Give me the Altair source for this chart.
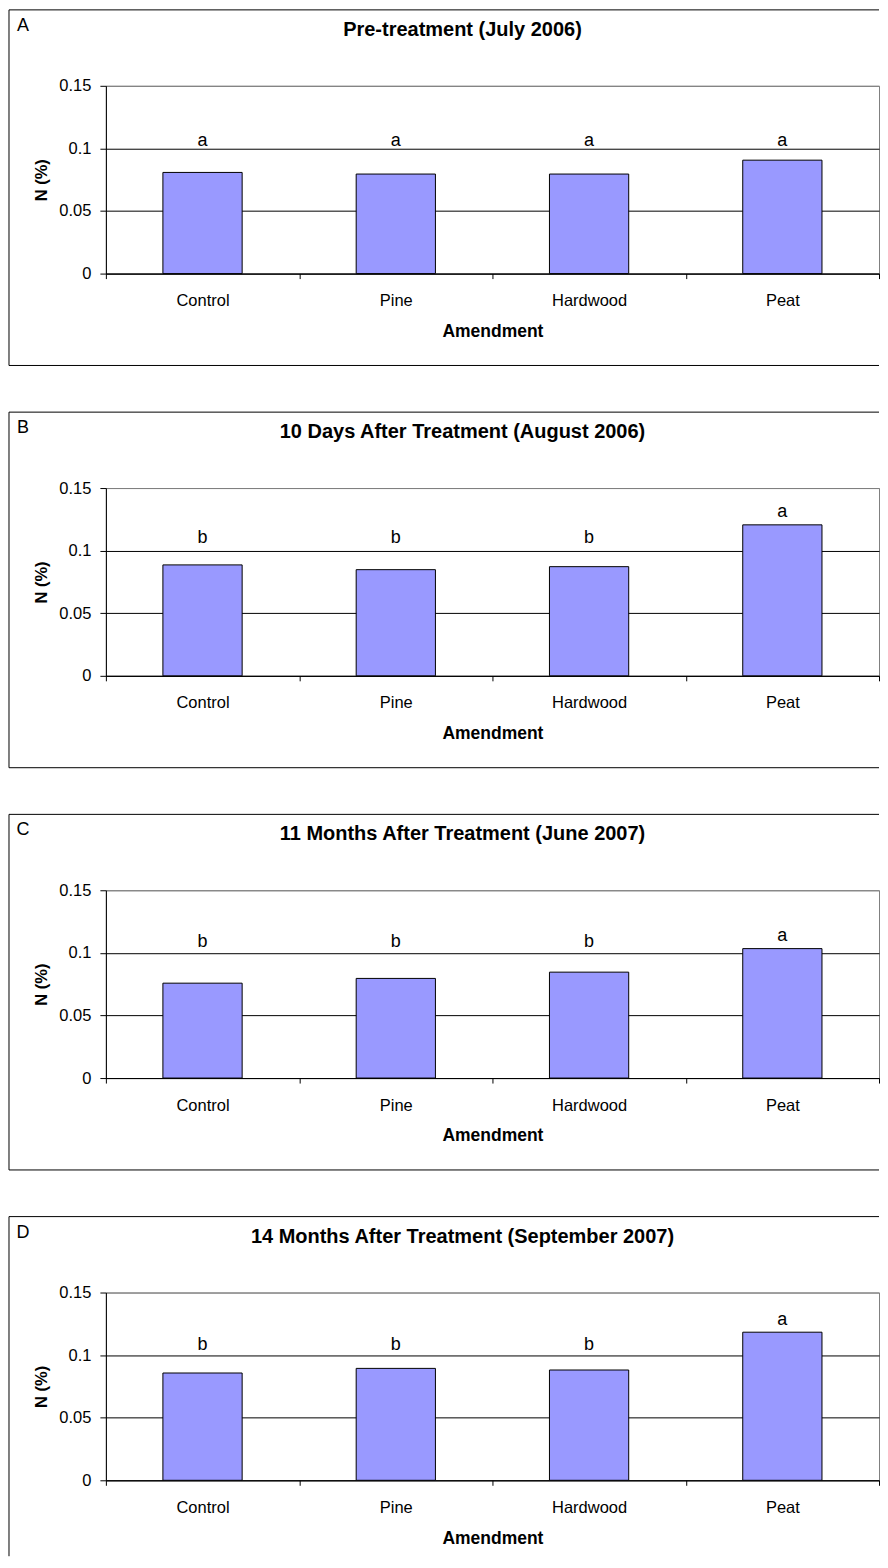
import altair as alt
import pandas as pd

# ---------------- data ----------------
amendments = ["Control", "Pine", "Hardwood", "Peat"]
panel_letters = ["A", "B", "C", "D"]
panel_titles = [
    "Pre-treatment (July 2006)",
    "10 Days After Treatment (August 2006)",
    "11 Months After Treatment (June 2007)",
    "14 Months After Treatment (September 2007)",
]
n_pre = [0.0808, 0.0795, 0.0795, 0.0906]
n_10d = [0.0886, 0.0848, 0.0872, 0.1206]
n_11m = [0.0758, 0.0796, 0.0846, 0.1034]
n_14m = [0.0857, 0.0894, 0.0881, 0.1183]
n_values = [n_pre, n_10d, n_11m, n_14m]

sig_pre = ["a", "a", "a", "a"]
sig_10d = ["b", "b", "b", "a"]
sig_11m = ["b", "b", "b", "a"]
sig_14m = ["b", "b", "b", "a"]
sig_letters = [sig_pre, sig_10d, sig_11m, sig_14m]

# height (N %) at which each significance letter sits
sigy_pre = [0.1016, 0.1016, 0.1016, 0.1016]
sigy_10d = [0.1062, 0.1062, 0.1062, 0.1266]
sigy_11m = [0.1050, 0.1050, 0.1050, 0.1095]
sigy_14m = [0.1044, 0.1044, 0.1044, 0.1244]
sig_heights = [sigy_pre, sigy_10d, sigy_11m, sigy_14m]

y_ticks = [0, 0.05, 0.1, 0.15]

# ---------------- layout / style ----------------
W, H = 774, 188
FONT = "Liberation Sans"
BOX_L, BOX_T = -97, -76
BOX_R = W


def panel(i):
    df = pd.DataFrame({
        "Amendment": amendments,
        "N": n_values[i],
        "sig": sig_letters[i],
        "sig_y": sig_heights[i],
    })
    base = alt.Chart(df)

    x_enc = alt.X(
        "Amendment:N",
        sort=amendments,
        scale=alt.Scale(paddingInner=0, paddingOuter=0),
        axis=alt.Axis(
            title="Amendment",
            labelAngle=0,
            tickBand="extent",
            grid=False,
            domainColor="#000000",
            tickColor="#000000",
            tickSize=5,
            labelFontSize=16.5,
            labelColor="#000000",
            labelBaseline="top",
            labelPadding=14,
            titleFontSize=17.5,
            titleFontWeight="bold",
            titleColor="#000000",
            titleX=W / 2,
            titleY=58,
            titleBaseline="middle",
        ),
    )
    y_axis = alt.Axis(
        title="N (%)",
        values=y_ticks,
        format="~g",
        domainColor="#000000",
        tickColor="#000000",
        tickSize=6,
        labelFontSize=16.5,
        labelColor="#000000",
        labelPadding=9,
        grid=True,
        gridColor={"condition": {"test": "datum.value >= 0.149", "value": "#808080"},
                   "value": "#000000"},
        gridWidth=1,
        titleFontSize=16.5,
        titleFontWeight="bold",
        titleColor="#000000",
        titleAngle=270,
        titleX=-64,
        titleY=H / 2,
        titleBaseline="middle",
    )
    y_enc = alt.Y("N:Q", scale=alt.Scale(domain=[0, 0.15], nice=False, zero=True), axis=y_axis)

    bars = base.mark_bar(
        width=alt.RelativeBandSize(0.41),
        fill="#9999FF",
        stroke="#000000",
        strokeWidth=1,
    ).encode(x=x_enc, y=y_enc)

    letters = base.mark_text(
        fontSize=18, baseline="alphabetic", align="center", color="#000000"
    ).encode(
        x=alt.X("Amendment:N", sort=amendments, title="Amendment"),
        y=alt.Y("sig_y:Q", title="N (%)"),
        text="sig:N",
    )

    one = pd.DataFrame({"k": [0]})
    bottom = 264 if i == 3 else 280
    deco = alt.Chart(one)
    top_rule = deco.mark_rule(color="#000000", strokeWidth=1).encode(
        x=alt.value(BOX_L), x2=alt.value(BOX_R), y=alt.value(BOX_T))
    left_rule = deco.mark_rule(color="#000000", strokeWidth=1).encode(
        x=alt.value(BOX_L), y=alt.value(BOX_T), y2=alt.value(bottom))
    layers = [top_rule, left_rule]
    if i < 3:
        bot_rule = deco.mark_rule(color="#000000", strokeWidth=1).encode(
            x=alt.value(BOX_L), x2=alt.value(BOX_R), y=alt.value(bottom))
        layers.append(bot_rule)

    letter_mark = deco.mark_text(
        fontSize=18, baseline="alphabetic", align="center", color="#000000"
    ).encode(x=alt.value(-83), y=alt.value(-55), text=alt.value(panel_letters[i]))
    title_mark = deco.mark_text(
        fontSize=20, fontWeight="bold", baseline="alphabetic", align="center", color="#000000"
    ).encode(x=alt.value(357), y=alt.value(-50), text=alt.value(panel_titles[i]))

    return alt.layer(bars, letters, *layers, letter_mark, title_mark).properties(
        width=W, height=H
    )


chart = alt.vconcat(*[panel(i) for i in range(4)], spacing=44.7).properties(
    padding=0, background="white"
).configure(font=FONT).configure_view(stroke="#808080", strokeWidth=1)

chart.save("out.html", embed_options={"renderer": "svg", "actions": False})
